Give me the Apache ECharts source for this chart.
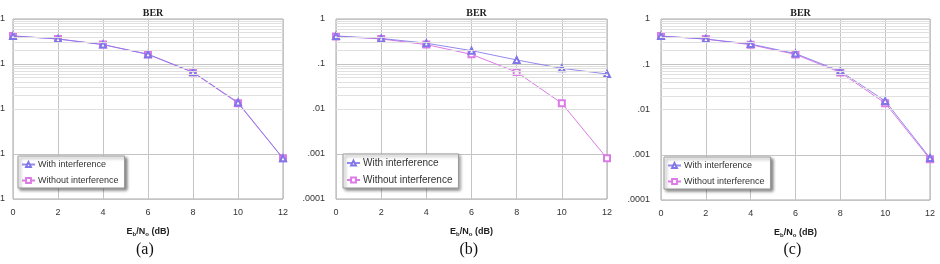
<!DOCTYPE html>
<html><head><meta charset="utf-8">
<script src="https://cdn.jsdelivr.net/npm/echarts@6/dist/echarts.min.js"></script>
<style>html,body{margin:0;padding:0;background:#fff}#c{width:940px;height:264px}</style>
</head><body><div id="c"></div>
<script>
// ---- data ----
const xValues = [0, 2, 4, 6, 8, 10, 12];
const seriesNames = ['With interference', 'Without interference'];
const aWith    = [0.42, 0.36, 0.27, 0.165, 0.066, 0.014, 0.0008];
const aWithout = [0.42, 0.36, 0.27, 0.163, 0.065, 0.0135, 0.0008];
const bWith    = [0.42, 0.37, 0.29, 0.198, 0.123, 0.080, 0.060];
const bWithout = [0.41, 0.36, 0.27, 0.164, 0.066, 0.0134, 0.0008];
const cWith    = [0.42, 0.36, 0.28, 0.172, 0.070, 0.0155, 0.00085];
const cWithout = [0.42, 0.36, 0.27, 0.165, 0.066, 0.0138, 0.0008];
const yTicks = [1, 0.1, 0.01, 0.001, 0.0001];
const yTickLabels = ['1', '.1', '.01', '.001', '.0001'];
const xTickLabels = ['0', '2', '4', '6', '8', '10', '12'];
const panelTitles = ['BER', 'BER', 'BER'];
const captions = ['(a)', '(b)', '(c)'];

// ---- layout/style ----
const grids = [
  {left: 13, top: 19, width: 270, height: 180},
  {left: 336, top: 19, width: 271, height: 180},
  {left: 661, top: 19, width: 269, height: 181}
];
const yLabelMargin = [8, 11, 11];
const legendPos = [
  {left: 18, top: 156, fs: 9},
  {left: 343, top: 154, fs: 10},
  {left: 664, top: 157, fs: 9}
];
const panels = [[aWith, aWithout], [bWith, bWithout], [cWith, cWithout]];
const colWith = '#8076ea', colWithout = '#dc7ae6';
const minorVals = [];
[0.0001, 0.001, 0.01, 0.1].forEach(d => { for (let k = 2; k <= 9; k++) minorVals.push(+(d * k).toPrecision(3)); });

const labelMap = {};
yTicks.forEach((v, i) => labelMap[v.toPrecision(3)] = yTickLabels[i]);

const option = {
  animation: false,
  backgroundColor: '#fff',
  title: grids.map((g, i) => ({
    text: panelTitles[i], left: g.left + g.width / 2, top: 3, textAlign: 'center',
    textStyle: {fontFamily: 'Liberation Serif', fontWeight: 'bold', fontSize: 10, color: '#222'}
  })),
  grid: grids.map(g => ({...g, outerBoundsMode: 'none', containLabel: false, show: true, borderColor: '#a8a8a8', borderWidth: 1, backgroundColor: '#fff'})),
  xAxis: grids.map((g, i) => ({
    type: 'value', gridIndex: i, min: 0, max: 12, interval: 2,
    axisLine: {show: false}, axisTick: {show: false},
    splitLine: {show: true, lineStyle: {color: '#c4c4c4', width: 1}},
    axisLabel: {fontFamily: 'Liberation Sans', fontSize: 9, color: '#333', margin: 9,
      formatter: v => xTickLabels[xValues.indexOf(v)] ?? ''},
    name: '{e|E}{s|b}{e|/N}{s|o}{e| (dB)}', nameLocation: 'middle', nameGap: 27,
    nameTextStyle: {rich: {
      e: {fontFamily: 'Liberation Sans', fontSize: 9, fontWeight: 'bold', color: '#222'},
      s: {fontFamily: 'Liberation Sans', fontSize: 6, fontWeight: 'bold', color: '#222', padding: [5, 0, 0, 0]}
    }}
  })),
  yAxis: grids.map((g, i) => ({
    type: 'log', logBase: 10, gridIndex: i, min: 0.0001, max: 1,
    axisLine: {show: false}, axisTick: {show: false},
    splitLine: {show: true, lineStyle: {color: '#c4c4c4', width: 1}},
    axisLabel: {fontFamily: 'Liberation Sans', fontSize: 9, color: '#333', margin: yLabelMargin[i],
      formatter: v => labelMap[(+v).toPrecision(3)] ?? ''}
  })),
  legend: legendPos.map((p, i) => ({
    orient: 'vertical', left: p.left, top: p.top, data: seriesNames,
    backgroundColor: '#fff', borderColor: '#9a9a9a', borderWidth: 1,
    shadowColor: 'rgba(0,0,0,0.45)', shadowBlur: 3, shadowOffsetX: 2, shadowOffsetY: 2,
    padding: [4, 6, 3, 3], itemGap: 7, itemWidth: 13, itemHeight: 6,
    textStyle: {fontFamily: 'Liberation Sans', fontSize: p.fs, color: '#333', padding: [0, 0, 0, -2]},
    selectedMode: false
  })),
  graphic: grids.map((g, i) => ({
    type: 'text', left: g.left + g.width / 2 - 12, top: 242,
    style: {text: captions[i], font: '16px "Liberation Serif"', fill: '#111'}
  })),
  series: []
};

panels.forEach((pd, i) => {
  option.series.push({
    type: 'line', xAxisIndex: i, yAxisIndex: i, data: [], silent: true, z: 1,
    markLine: {silent: true, symbol: 'none', label: {show: false}, animation: false,
      lineStyle: {color: '#e0e0e0', width: 1, type: 'solid'},
      data: minorVals.map(v => ({yAxis: v}))}
  });
  option.series.push({
    name: seriesNames[1], type: 'line', xAxisIndex: i, yAxisIndex: i, z: 3,
    data: xValues.map((x, k) => [x, pd[1][k]]),
    symbol: 'emptyRect', symbolSize: 6,
    lineStyle: {color: colWithout, width: 1}, itemStyle: {color: colWithout, borderWidth: 1}
  });
  option.series.push({
    name: seriesNames[0], type: 'line', xAxisIndex: i, yAxisIndex: i, z: 4,
    data: xValues.map((x, k) => [x, pd[0][k]]),
    symbol: 'emptyTriangle', symbolSize: 6,
    lineStyle: {color: colWith, width: 1, opacity: 0.85}, itemStyle: {color: colWith, borderWidth: 1}
  });
});

const chart = echarts.init(document.getElementById('c'), null, {renderer: 'canvas'});
chart.setOption(option);
</script></body></html>
